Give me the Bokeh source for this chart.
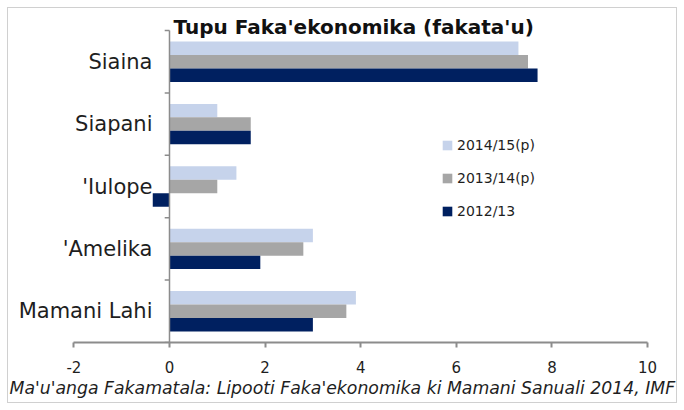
from bokeh.plotting import figure
from bokeh.models import Range1d, FixedTicker, ColumnDataSource, Legend, LegendItem, Title, PrintfTickFormatter
from bokeh.core.properties import value
from bokeh.transform import dodge
from bokeh.embed import file_html
from bokeh.resources import INLINE

# ---- data ----
categories = ["Siaina", "Siapani", "'Iulope", "'Amelika", "Mamani Lahi"]
series_names = ["2014/15(p)", "2013/14(p)", "2012/13"]
s2014 = [7.3, 1.0, 1.4, 3.0, 3.9]
s2013 = [7.5, 1.7, 1.0, 2.8, 3.7]
s2012 = [7.7, 1.7, -0.35, 1.9, 3.0]
x_ticks = [-2, 0, 2, 4, 6, 8, 10]
title_text = "Tupu Faka'ekonomika (fakata'u)"
source_text = "Ma'u'anga Fakamatala: Lipooti Faka'ekonomika ki Mamani Sanuali 2014, IMF"

# ---- styles ----
C_LIGHT = "#c6d3eb"
C_GRAY = "#a6a6a6"
C_NAVY = "#002060"
AXIS_C = "#8c8c8c"
TXT_C = "#1e1e1e"
FONT = "DejaVu Sans"
BAR_H = 0.216

n = len(categories)
ypos = [n - 1 - i for i in range(n)]

src = ColumnDataSource(dict(cat=categories, y=ypos, s2014=s2014, s2013=s2013, s2012=s2012))

p = figure(frame_width=638, frame_height=342, output_backend="svg", toolbar_location=None,
           x_range=Range1d(-3.347, 10), y_range=Range1d(-0.5, 4.9808),
           y_axis_location=None, min_border_left=9, min_border_right=37,
           min_border_top=0, min_border_bottom=68)
p.outline_line_color = None
p.grid.visible = False
p.background_fill_alpha = 0
p.border_fill_alpha = 0
p.styles = {"background-color": "white",
            "box-shadow": "inset 0 0 0 7px #ffffff, inset 0 0 0 8px #d0d0d0"}

r14 = p.hbar(y=dodge('y', BAR_H, range=p.y_range), left=0, right='s2014', height=BAR_H,
             fill_color=C_LIGHT, line_color=None, source=src)
r13 = p.hbar(y='y', left=0, right='s2013', height=BAR_H,
             fill_color=C_GRAY, line_color=None, source=src)
r12 = p.hbar(y=dodge('y', -BAR_H, range=p.y_range), left=0, right='s2012', height=BAR_H,
             fill_color=C_NAVY, line_color=None, source=src)

# category axis at x = 0
bounds = [i - 0.5 for i in range(n + 1)]
p.segment(x0=[0], x1=[0], y0=[bounds[0]], y1=[bounds[-1]], line_color=AXIS_C, line_width=1.5)
p.segment(x0=[-0.1] * len(bounds), x1=[0] * len(bounds), y0=bounds, y1=bounds,
          line_color=AXIS_C, line_width=1.5)
p.text(x=0, y='y', text='cat', x_offset=-17, text_align='right', text_baseline='middle',
       text_font=value(FONT), text_font_size="21px", text_color=TXT_C, source=src)

# title inside the frame
p.text(x=[0.084], y=[4.564], text=[title_text], text_align='left', text_baseline='alphabetic',
       text_font=value(FONT), text_font_style="bold", text_font_size="20px", text_color="#111111")

# value axis
ax = p.xaxis[0]
ax.ticker = FixedTicker(ticks=x_ticks)
ax.formatter = PrintfTickFormatter(format="%d")
ax.bounds = (x_ticks[0], x_ticks[-1])
ax.major_tick_in = 0
ax.major_tick_out = 5
ax.minor_tick_line_color = None
ax.axis_line_color = AXIS_C
ax.axis_line_width = 2
ax.major_tick_line_color = AXIS_C
ax.major_tick_line_width = 2
ax.major_label_text_font = FONT
ax.major_label_text_font_size = "15px"
ax.major_label_text_color = TXT_C
ax.major_label_standoff = 13

# source note
p.add_layout(Title(text=source_text, align="left", offset=0, standoff=1,
                   text_font=FONT, text_font_style="italic", text_font_size="17.3px",
                   text_color=TXT_C), "below")

legend = Legend(items=[LegendItem(label=series_names[0], renderers=[r14]),
                       LegendItem(label=series_names[1], renderers=[r13]),
                       LegendItem(label=series_names[2], renderers=[r12])],
                location=(432, 121), orientation="vertical", padding=0, margin=0,
                spacing=13, label_height=20, glyph_height=12, glyph_width=12,
                label_standoff=4, border_line_color=None, background_fill_alpha=0,
                label_text_font=FONT, label_text_font_size="14px", label_text_color=TXT_C)
p.add_layout(legend)

open("out.html", "w").write(file_html(p, INLINE))
